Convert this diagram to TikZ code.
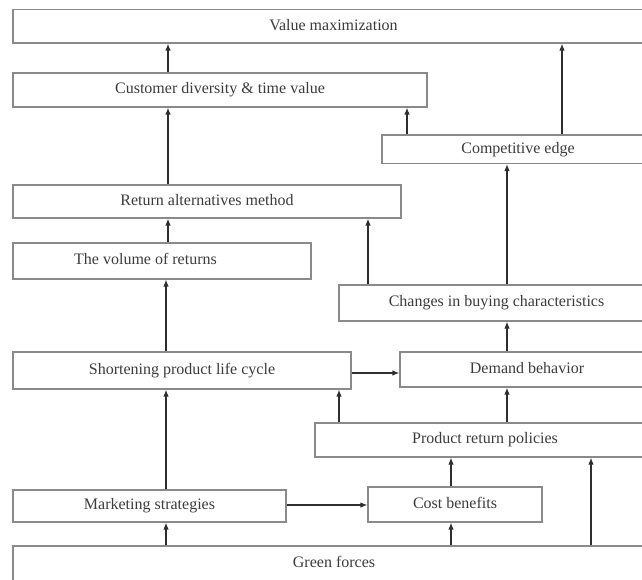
\documentclass[tikz,border=0pt]{standalone}
\usepackage{fontspec}
\setmainfont{Liberation Serif}
\usetikzlibrary{arrows.meta}
\definecolor{boxline}{HTML}{8A8A8A}
\definecolor{arrowline}{HTML}{2E2E2E}
\definecolor{labeltext}{HTML}{3C3C3C}
\begin{document}
\begin{tikzpicture}[x=1pt,y=-1pt,
  box/.style={draw=boxline, line width=1.1pt, fill=white, rectangle, inner sep=0pt,
    text=labeltext, font=\fontsize{16}{19}\selectfont, text height=11pt, text depth=3.5pt},
  arr/.style={draw=arrowline, line width=1.3pt, -{Latex[length=7pt,width=5.5pt]}}]
\useasboundingbox (0,0) rectangle (642,579);
\fill[white] (0,0) rectangle (642,579);
\begin{scope}
\clip (0,0) rectangle (642,579);
% boxes, top to bottom
\node[box, minimum width=641pt, minimum height=33.5pt] (VM) at (333.5,26.25) {Value maximization};
\node[box, minimum width=414pt, minimum height=34pt] (CD) at (220,90) {Customer diversity \& time value};
\node[box, minimum width=272pt, minimum height=28.5pt] (CE) at (518,149.25) {Competitive edge};
\node[box, minimum width=388pt, minimum height=33pt] (RA) at (207,201.5) {Return alternatives method};
\node[box, minimum width=298pt, minimum height=36pt] (VR) at (162,261) {The volume of returns\hspace*{33pt}};
\node[box, minimum width=315pt, minimum height=36pt] (CB) at (496.5,303) {Changes in buying characteristics};
\node[box, minimum width=338pt, minimum height=37pt] (SP) at (182,370.5) {Shortening product life cycle};
\node[box, minimum width=254pt, minimum height=35pt] (DB) at (527,369.5) {Demand behavior};
\node[box, minimum width=340pt, minimum height=34pt] (PR) at (485,440) {Product return policies};
\node[box, minimum width=273pt, minimum height=32pt] (MS) at (149.5,506) {Marketing strategies};
\node[box, minimum width=174pt, minimum height=35pt] (CBN) at (455,504.5) {Cost benefits};
\node[box, minimum width=642pt, minimum height=36pt] (GF) at (334,564) {Green forces};

% connector columns and rows
\coordinate (xa) at (168,0);
\coordinate (xb) at (166,0);
\coordinate (xc) at (368,0);
\coordinate (xd) at (339,0);
\coordinate (xe) at (407,0);
\coordinate (xf) at (507,0);
\coordinate (xg) at (562,0);
\coordinate (xh) at (451,0);
\coordinate (xi) at (591,0);
\coordinate (ya) at (0,373);
\coordinate (yb) at (0,505);

% connectors
\draw[arr] (CD.north -| xa) -- (VM.south -| xa);
\draw[arr] (CE.north -| xg) -- (VM.south -| xg);
\draw[arr] (CE.north -| xe) -- (CD.south -| xe);
\draw[arr] (RA.north -| xa) -- (CD.south -| xa);
\draw[arr] (VR.north -| xa) -- (RA.south -| xa);
\draw[arr] (CB.north -| xc) -- (RA.south -| xc);
\draw[arr] (CB.north -| xf) -- (CE.south -| xf);
\draw[arr] (SP.north -| xb) -- (VR.south -| xb);
\draw[arr] (DB.north -| xf) -- (CB.south -| xf);
\draw[arr] (SP.east |- ya) -- (DB.west |- ya);
\draw[arr] (PR.north -| xd) -- (SP.south -| xd);
\draw[arr] (PR.north -| xf) -- (DB.south -| xf);
\draw[arr] (MS.north -| xb) -- (SP.south -| xb);
\draw[arr] (CBN.north -| xh) -- (PR.south -| xh);
\draw[arr] (MS.east |- yb) -- (CBN.west |- yb);
\draw[arr] (GF.north -| xb) -- (MS.south -| xb);
\draw[arr] (GF.north -| xh) -- (CBN.south -| xh);
\draw[arr] (GF.north -| xi) -- (PR.south -| xi);
\end{scope}
\end{tikzpicture}
\end{document}
